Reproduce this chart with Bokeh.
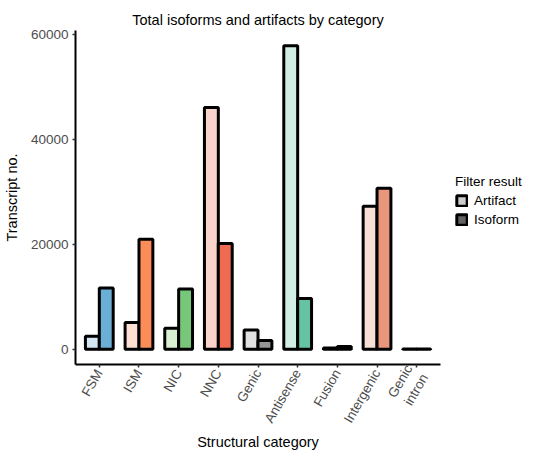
from bokeh.plotting import figure
from bokeh.layouts import row
from bokeh.models import (ColumnDataSource, Range1d, FixedTicker, Legend, LegendItem)
from bokeh.transform import dodge
from bokeh.embed import file_html
from bokeh.resources import INLINE

# ---- data ----
categories = ["FSM", "ISM", "NIC", "NNC", "Genic", "Antisense", "Fusion",
              "Intergenic", "Genic\nintron"]
artifact = [2500, 5100, 4000, 46100, 3700, 57900, 250, 27300, 60]
isoform = [11700, 21000, 11500, 20200, 1700, 9700, 550, 30700, 40]
artifact_colors = ["#d3e6f1", "#fee0d2", "#d9f0d3", "#fad3cd", "#e0e0e0",
                   "#d2ede3", "#cccccc", "#f6e0d6", "#d9d9d9"]
isoform_colors = ["#6baed6", "#fc8d59", "#78c679", "#ee6a50", "#969696",
                  "#66c2a5", "#525252", "#e9967a", "#969696"]
y_ticks = [0, 20000, 40000, 60000]
legend_labels = ["Artifact", "Isoform"]
legend_colors = ["#cccccc", "#636363"]

FONT = "Liberation Sans"
positions = list(range(1, len(categories) + 1))

src = ColumnDataSource(dict(x=positions, artifact=artifact, isoform=isoform,
                            acol=artifact_colors, icol=isoform_colors))

p = figure(width=450, height=453, output_backend="svg", toolbar_location=None,
           x_range=Range1d(0.4, len(categories) + 0.6),
           y_range=Range1d(-2895, 60795),
           min_border_left=72, min_border_right=10, min_border_top=30,
           min_border_bottom=80)

p.vbar(x=dodge("x", -0.175), top="artifact", bottom=0, width=0.35, source=src,
       fill_color="acol", line_color="black", line_width=3)
p.vbar(x=dodge("x", 0.175), top="isoform", bottom=0, width=0.35, source=src,
       fill_color="icol", line_color="black", line_width=3)

# title
p.title.text = "Total isoforms and artifacts by category"
p.title.align = "center"
p.title.text_font = FONT
p.title.text_font_size = "14.5px"
p.title.text_font_style = "normal"
p.title.text_color = "black"
p.title.standoff = 6

p.xgrid.visible = False
p.ygrid.visible = False
p.outline_line_color = None

for ax in (p.xaxis[0], p.yaxis[0]):
    ax.axis_line_width = 2
    ax.axis_line_color = "black"
    ax.major_tick_line_color = "#333333"
    ax.major_tick_line_width = 1.5
    ax.major_tick_in = 0
    ax.major_tick_out = 3
    ax.minor_tick_line_color = None
    ax.major_label_text_font = FONT
    ax.major_label_text_font_size = "13.5px"
    ax.major_label_text_color = "#4d4d4d"
    ax.axis_label_text_font = FONT
    ax.axis_label_text_font_size = "14.5px"
    ax.axis_label_text_font_style = "normal"
    ax.axis_label_text_color = "black"

p.xaxis.ticker = FixedTicker(ticks=positions)
p.xaxis.major_label_overrides = {i: c for i, c in zip(positions, categories)}
p.xaxis.major_label_orientation = 1.0472
p.xaxis.major_label_standoff = 3
p.xaxis.axis_label_standoff = 2
p.xaxis.axis_label = "Structural category"
p.yaxis.ticker = FixedTicker(ticks=y_ticks)
p.yaxis.major_label_standoff = 4
p.yaxis.axis_label_standoff = 8
p.yaxis.axis_label = "Transcript no."

# legend in its own small figure, to the right of the plot
lg = figure(width=74, height=453, output_backend="svg", toolbar_location=None,
            x_axis_type=None, y_axis_type=None, min_border=0,
            x_range=Range1d(0, 1), y_range=Range1d(0, 1),
            outline_line_color=None)
lg.xgrid.visible = False
lg.ygrid.visible = False
items = []
for lab, col in zip(legend_labels, legend_colors):
    # key swatch only: its single point lies outside the visible range
    r = lg.rect(x=[-10], y=[-10], width=1, height=1, fill_color=col,
                line_color="black", line_width=3)
    items.append(LegendItem(label=lab, renderers=[r]))
legend = Legend(items=items, location=(5, 137), title="Filter result",
                title_text_font=FONT, title_text_font_size="13.5px",
                title_text_font_style="normal", title_standoff=4,
                title_text_color="black",
                label_text_font=FONT, label_text_font_size="13.5px",
                label_text_color="black",
                glyph_width=13, glyph_height=13, label_standoff=6,
                spacing=4, padding=0, margin=0, border_line_color=None,
                background_fill_alpha=0)
lg.add_layout(legend)

open("out.html", "w").write(file_html(row(p, lg), INLINE))
